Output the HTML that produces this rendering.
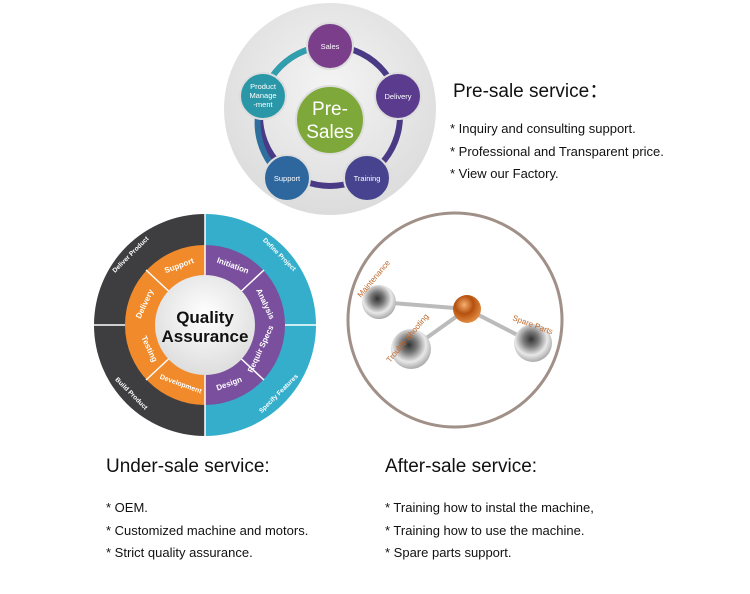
<!DOCTYPE html>
<html><head><style>
body{margin:0;width:750px;height:594px;background:#fff;overflow:hidden;position:relative;font-family:"Liberation Sans",sans-serif}
.t{position:absolute;color:#111;white-space:nowrap}
.h{font-size:19px}
.b{font-size:13px}
</style></head><body>
<svg width="750" height="594" style="position:absolute;left:0;top:0" font-family="Liberation Sans, sans-serif">
<defs>
<radialGradient id="g1" cx="50%" cy="40%" r="60%"><stop offset="0" stop-color="#f4f4f4"/><stop offset="1" stop-color="#dcdcdc"/></radialGradient>
<radialGradient id="wc" cx="50%" cy="40%" r="60%"><stop offset="0" stop-color="#fff"/><stop offset="1" stop-color="#ddd"/></radialGradient>
<radialGradient id="met" cx="45%" cy="40%" r="65%"><stop offset="0" stop-color="#333"/><stop offset="0.3" stop-color="#777"/><stop offset="0.65" stop-color="#e8e8e8"/><stop offset="1" stop-color="#999"/></radialGradient>
<radialGradient id="org" cx="40%" cy="35%" r="65%"><stop offset="0" stop-color="#f6b070"/><stop offset="0.5" stop-color="#b5500e"/><stop offset="1" stop-color="#e08a40"/></radialGradient>
</defs>
<circle cx="330" cy="109" r="106" fill="url(#g1)"/>
<circle cx="330" cy="116" r="70" fill="none" stroke="#4a3a85" stroke-width="6"/>
<path d="M263 96 A70 70 0 0 1 330 46" fill="none" stroke="#2f9fae" stroke-width="6"/>
<path d="M287 180 A70 70 0 0 1 263 96" fill="none" stroke="#2e6f9e" stroke-width="6"/>
<circle cx="330" cy="120" r="34" fill="#7fa83a" stroke="#ddd" stroke-width="2"/>
<text x="330" y="115" font-size="19" fill="#fff" text-anchor="middle">Pre-</text>
<text x="330" y="138" font-size="19" fill="#fff" text-anchor="middle">Sales</text>
<g stroke="#ddd" stroke-width="2">
<circle cx="330" cy="46" r="23" fill="#7a3e8a"/>
<circle cx="398" cy="96" r="23" fill="#5a3b8e"/>
<circle cx="367" cy="178" r="23" fill="#47438f"/>
<circle cx="287" cy="178" r="23" fill="#2e679e"/>
<circle cx="263" cy="96" r="23" fill="#2a97a8"/>
</g>
<g font-size="7.5" fill="#fff" text-anchor="middle">
<text x="330" y="49">Sales</text><text x="398" y="99">Delivery</text><text x="367" y="181">Training</text><text x="287" y="181">Support</text>
<text x="263" y="89">Product</text><text x="263" y="98">Manage</text><text x="263" y="107">-ment</text>
</g>
<path d="M205 214 A111 111 0 0 0 205 436Z" fill="#3e3e40"/>
<path d="M205 214 A111 111 0 0 1 205 436Z" fill="#35aecb"/>
<path d="M205 245 A80 80 0 0 0 205 405Z" fill="#f08a2a"/>
<path d="M205 245 A80 80 0 0 1 205 405Z" fill="#7a4f9e"/>
<g stroke="#fff" stroke-width="1.5">
<line x1="94" y1="325" x2="125" y2="325"/><line x1="285" y1="325" x2="316" y2="325"/>
<line x1="205" y1="214" x2="205" y2="436"/>
<line x1="205" y1="325" x2="146" y2="270"/><line x1="205" y1="325" x2="146" y2="380"/>
<line x1="205" y1="325" x2="264" y2="270"/><line x1="205" y1="325" x2="264" y2="380"/>
</g>
<circle cx="205" cy="325" r="50" fill="url(#wc)"/>
<text x="205" y="323" font-size="17" font-weight="bold" text-anchor="middle" fill="#111">Quality</text>
<text x="205" y="342" font-size="17" font-weight="bold" text-anchor="middle" fill="#111">Assurance</text>
<g font-size="8" fill="#fff" font-weight="bold" text-anchor="middle">
<text x="180" y="268" transform="rotate(-20 180 268)">Support</text>
<text x="232" y="268" transform="rotate(20 232 268)">Initiation</text>
<text x="147" y="305" transform="rotate(-65 147 305)">Delivery</text>
<text x="263" y="305" transform="rotate(65 263 305)">Analysis</text>
<text x="147" y="350" transform="rotate(65 147 350)">Testing</text>
<text x="263" y="350" transform="rotate(-65 263 350)">Requir Specs</text>
<text x="180" y="386" transform="rotate(20 180 386)" font-size="7">Development</text>
<text x="230" y="386" transform="rotate(-20 230 386)">Design</text>
<text x="132" y="256" transform="rotate(-45 132 256)" font-size="6.5">Deliver Product</text>
<text x="278" y="256" transform="rotate(45 278 256)" font-size="6.5">Define Project</text>
<text x="130" y="395" transform="rotate(45 130 395)" font-size="6.5">Build Product</text>
<text x="280" y="395" transform="rotate(-45 280 395)" font-size="6.5">Specify Features</text>
</g>
<circle cx="455" cy="320" r="107" fill="#fff" stroke="#a09088" stroke-width="3"/>
<g stroke="#bbb" stroke-width="4"><line x1="379" y1="302" x2="467" y2="309"/><line x1="411" y1="349" x2="467" y2="309"/><line x1="533" y1="343" x2="467" y2="309"/></g>
<circle cx="379" cy="302" r="17" fill="url(#met)"/>
<circle cx="411" cy="349" r="20" fill="url(#met)"/>
<circle cx="533" cy="343" r="19" fill="url(#met)"/>
<circle cx="467" cy="309" r="14" fill="url(#org)"/>
<g font-size="8" fill="#c0682a">
<text x="361" y="298" transform="rotate(-50 361 298)">Maintenance</text>
<text x="390" y="363" transform="rotate(-50 390 363)">Trouble Shooting</text>
<text x="512" y="320" transform="rotate(20 512 320)">Spare Parts</text>
</g>
</svg>
<div class="t h" style="left:453px;top:76px">Pre-sale service：</div>
<div class="t b" style="left:450px;top:121px">* Inquiry and consulting support.</div>
<div class="t b" style="left:450px;top:144px">* Professional and Transparent price.</div>
<div class="t b" style="left:450px;top:166px">* View our Factory.</div>
<div class="t h" style="left:106px;top:456px">Under-sale service:</div>
<div class="t b" style="left:106px;top:500px">* OEM.</div>
<div class="t b" style="left:106px;top:523px">* Customized machine and motors.</div>
<div class="t b" style="left:106px;top:545px">* Strict quality assurance.</div>
<div class="t h" style="left:385px;top:456px">After-sale service:</div>
<div class="t b" style="left:385px;top:500px">* Training how to instal the machine,</div>
<div class="t b" style="left:385px;top:523px">* Training how to use the machine.</div>
<div class="t b" style="left:385px;top:545px">* Spare parts support.</div>
</body></html>
